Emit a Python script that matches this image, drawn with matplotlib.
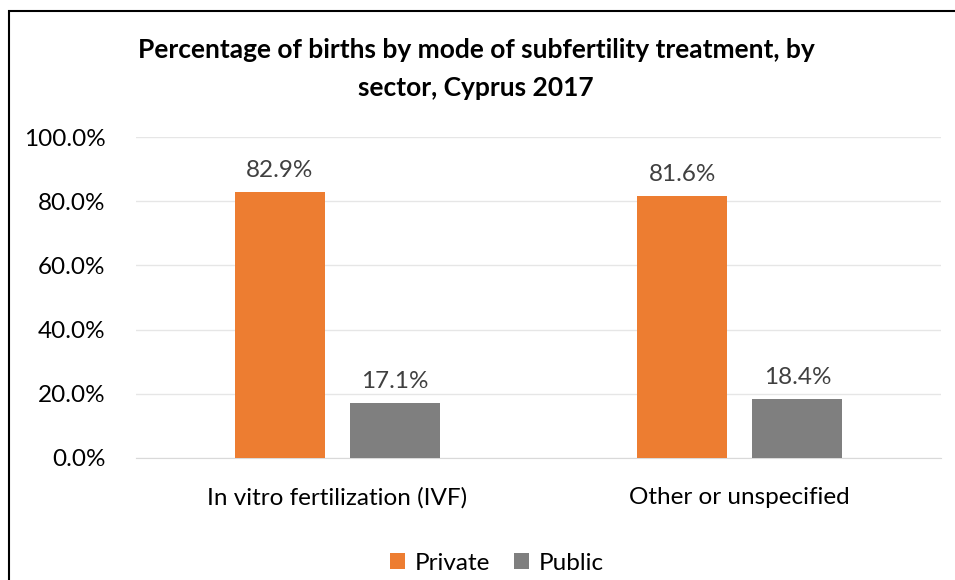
import matplotlib.pyplot as plt
import matplotlib.patches as mpatches
import numpy as np

# Chart data
categories = ["In vitro fertilization (IVF)", "Other or unspecified"]
private = [82.9, 81.6]
public = [17.1, 18.4]
series_names = ["Private", "Public"]
yticks = [0, 20, 40, 60, 80, 100]

plt.rcParams["font.family"] = ["Lato", "DejaVu Sans"]

W, H = 955, 580
fig = plt.figure(figsize=(W / 100, H / 100), dpi=100)

# Plot area in pixel coords
left, right, top, bottom = 136, 941, 137, 458
ax = fig.add_axes([left / W, 1 - bottom / H, (right - left) / W, (bottom - top) / H])

x = np.arange(len(categories))
bar_w = 0.224
offset = (bar_w + 0.062) / 2
b1 = ax.bar(x - offset, private, bar_w, color="#ED7D31", label=series_names[0], zorder=3)
b2 = ax.bar(x + offset, public, bar_w, color="#7F7F7F", label=series_names[1], zorder=3)

for bars in (b1, b2):
    for r in bars:
        ax.annotate(f"{r.get_height():.1f}%", (r.get_x() + r.get_width() / 2, r.get_height()),
                    xytext=(0, 8), textcoords="offset points", ha="center", va="bottom",
                    fontsize=17.5, color="#404040")

ax.set_xlim(-0.5, len(categories) - 0.5)
ax.set_ylim(0, 100)
ax.set_yticks(yticks)
ax.set_yticklabels([f"{v:.1f}%" for v in yticks])
ax.set_xticks(x)
ax.set_xticklabels(categories)
ax.tick_params(axis="both", length=0, labelsize=17.5, colors="#000000")
ax.tick_params(axis="y", pad=22)
ax.tick_params(axis="x", pad=21)
ax.grid(axis="y", color="#E6E6E6", linewidth=1, zorder=0)
for s in ["top", "right", "left"]:
    ax.spines[s].set_visible(False)
ax.spines["bottom"].set_color("#D9D9D9")

fig.text(476 / W, 1 - 50 / H, "Percentage of births by mode of subfertility treatment, by",
         ha="center", va="center", fontsize=19, fontweight="bold")
fig.text(476 / W, 1 - 88 / H, "sector, Cyprus 2017",
         ha="center", va="center", fontsize=19, fontweight="bold")

fig.legend(handles=[b1, b2], loc="center", bbox_to_anchor=(497 / W, 1 - 563 / H), ncol=2,
           frameon=False, fontsize=17.5, handlelength=0.6, handleheight=0.6,
           handletextpad=0.4, columnspacing=1.0)

# outer chart border, running off the bottom and right edges
fig.patches.append(mpatches.Rectangle((9 / W, -0.05), 1.0, 1 - 11 / H + 0.05,
                                      transform=fig.transFigure, fill=False,
                                      edgecolor="black", linewidth=1.5))

fig.savefig("out.png", dpi=100)
